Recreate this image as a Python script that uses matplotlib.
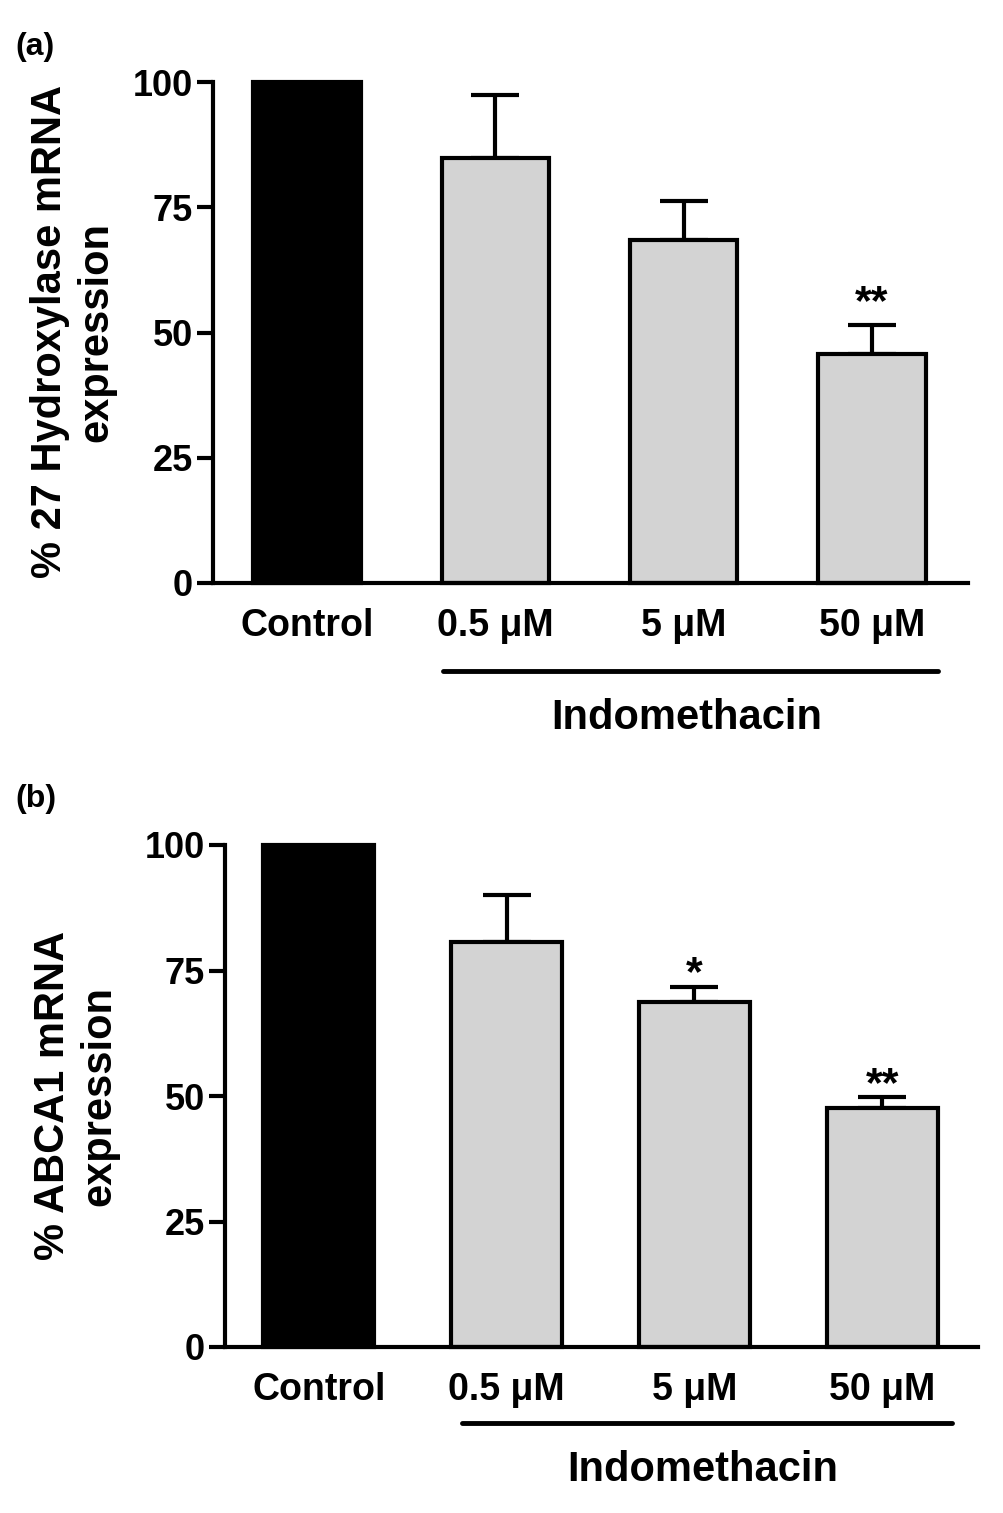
import numpy as np
import matplotlib
matplotlib.use("Agg")
import matplotlib.pyplot as plt

plt.rcParams['font.family'] = ['Liberation Sans', 'DejaVu Sans']
plt.rcParams['font.weight'] = 'bold'

# data
groups_a = ["Control", "0.5 μM", "5 μM", "50 μM"]
means_a = [100, 84.8, 68.5, 45.7]
sem_a = [0, 12.6, 7.7, 5.8]
stars_a = ["", "", "", "**"]

groups_b = ["Control", "0.5 μM", "5 μM", "50 μM"]
means_b = [100, 80.6, 68.8, 47.6]
sem_b = [0, 9.4, 3.0, 2.2]
stars_b = ["", "", "*", "**"]

yticks = [0, 25, 50, 75, 100]
bar_colors = ["black", "#d3d3d3", "#d3d3d3", "#d3d3d3"]

LW = 3.0


def draw_panel(ax, groups, means, sems, stars, ylabel, bw, star_off,
               line_x, line_y, text_y, label_pos, letter, letter_y):
    x = np.arange(len(groups))
    ax.bar(x, means, width=bw, color=bar_colors, edgecolor="black",
           linewidth=LW, clip_on=False, zorder=2)
    ax.errorbar(x[1:], means[1:], yerr=[np.zeros(len(x) - 1), sems[1:]],
                fmt="none", ecolor="black", elinewidth=LW, capsize=17,
                capthick=LW, zorder=1, clip_on=False)
    for xi, m, s, st in zip(x, means, sems, stars):
        if st:
            ax.text(xi, m + s + star_off, st, ha="center", va="baseline",
                    fontsize=31, fontweight="bold")

    ax.set_xlim(-0.5, 3.51)
    ax.set_ylim(0, 100)
    ax.set_yticks(yticks)
    ax.set_xticks(x)
    ax.set_xticklabels(groups, fontsize=27, fontweight="bold")
    ax.tick_params(axis="x", length=0, pad=18)
    ax.tick_params(axis="y", length=11.5, width=LW, labelsize=26, pad=3)
    for lab in ax.get_yticklabels():
        lab.set_fontweight("bold")
    for side in ["top", "right"]:
        ax.spines[side].set_visible(False)
    for side in ["left", "bottom"]:
        ax.spines[side].set_linewidth(LW)

    # Indomethacin bracket line
    ax.plot(line_x, [line_y, line_y], color="black", lw=LW + 0.5,
            solid_capstyle="round", clip_on=False)
    ax.text(np.mean(line_x) - 0.02, text_y, "Indomethacin", ha="center",
            va="center", fontsize=30, fontweight="bold")

    fig.text(label_pos[0], label_pos[1], ylabel, rotation=90, ha="center",
             va="center", fontsize=30, fontweight="bold", linespacing=1.2)
    fig.text(15 / 1004, letter_y, letter, ha="left", va="center",
             fontsize=23, fontweight="bold")


fig = plt.figure(figsize=(10.04, 15.13), dpi=100)

ax_a = fig.add_axes([213 / 1004, 1 - 583 / 1513, 755 / 1004, 501 / 1513])
ax_b = fig.add_axes([225 / 1004, 1 - 1347 / 1513, 753 / 1004, 502 / 1513])

draw_panel(ax_a, groups_a, means_a, sem_a, stars_a,
           "% 27 Hydroxylase mRNA\nexpression", 0.57, 2.2,
           [0.72, 3.35], -17.6, -27.0,
           (73 / 1004, 1 - 332 / 1513), "(a)", 1 - 47 / 1513)
draw_panel(ax_b, groups_b, means_b, sem_b, stars_b,
           "% ABCA1 mRNA\nexpression", 0.59, 0.2,
           [0.76, 3.37], -15.1, -24.5,
           (76 / 1004, 1 - 1096 / 1513), "(b)", 1 - 799 / 1513)

fig.savefig("out.png", dpi=100)
